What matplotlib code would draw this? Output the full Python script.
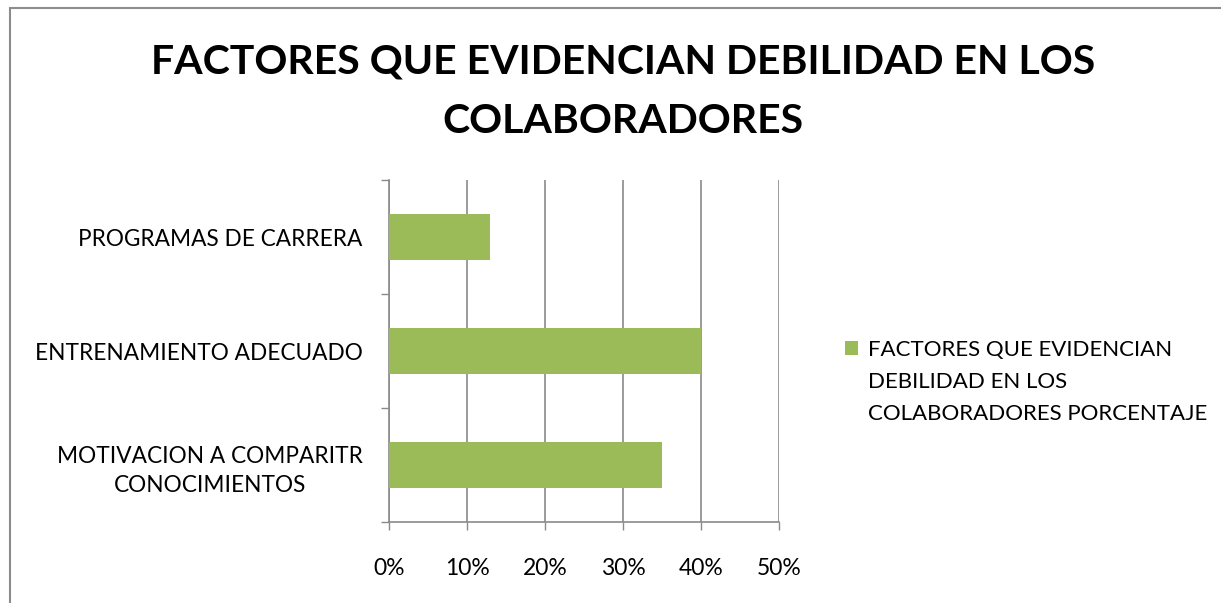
import matplotlib
matplotlib.use("Agg")
import matplotlib.pyplot as plt
from matplotlib.patches import Rectangle

categories = ["PROGRAMAS DE CARRERA", "ENTRENAMIENTO ADECUADO", "MOTIVACION A COMPARITR\nCONOCIMIENTOS"]
values = [0.13, 0.40, 0.35]
xticks = [0.0, 0.1, 0.2, 0.3, 0.4, 0.5]
xtick_labels = ["0%", "10%", "20%", "30%", "40%", "50%"]
title = "FACTORES QUE EVIDENCIAN DEBILIDAD EN LOS\nCOLABORADORES"
legend_lines = ["FACTORES QUE EVIDENCIAN", "DEBILIDAD EN LOS", "COLABORADORES PORCENTAJE"]

plt.rcParams['font.family'] = ['Lato', 'DejaVu Sans']
W, H = 1221, 603
fig = plt.figure(figsize=(W / 100, H / 100), dpi=100)
fig.patch.set_facecolor('white')

# outer border
fig.patches.append(Rectangle((10 / W, -0.1), 1.2, 1 - 8 / H + 0.1, transform=fig.transFigure,
                             fill=False, edgecolor='#8c8c8c', linewidth=1.5))

ax = fig.add_axes([389 / W, 1 - 522 / H, (779 - 389) / W, (522 - 180) / H])
bar_color = '#9BBB59'
grid_color = '#8a8a8a'
ypos = [2, 1, 0]
bars = ax.barh(ypos, values, height=0.4, color=bar_color, zorder=3)
ax.set_xlim(0, 0.5)
ax.set_ylim(-0.5, 2.5)

ax.set_xticks(xticks)
ax.set_xticklabels(xtick_labels, fontsize=16.5)
ax.tick_params(axis='x', length=6, width=1, color=grid_color, pad=20, labelcolor='black')
ax.xaxis.grid(True, color=grid_color, linewidth=1.2, zorder=0)

ax.set_yticks([-0.5, 0.5, 1.5, 2.5])
ax.set_yticklabels([])
ax.tick_params(axis='y', which='major', length=6, width=1, color=grid_color)
ax.set_yticks(ypos, minor=True)
ax.set_yticklabels(categories, minor=True, fontsize=16.3)
ax.tick_params(axis='y', which='minor', length=0, pad=19)
for lab in ax.get_yticklabels(minor=True):
    lab.set_multialignment('center')
    lab.set_linespacing(1.5)

for s in ['top', 'right']:
    ax.spines[s].set_visible(False)
for s in ['left', 'bottom']:
    ax.spines[s].set_color(grid_color)
    ax.spines[s].set_linewidth(1.2)

fig.text(623 / W, 1 - 92 / H, title, ha='center', va='center', fontsize=29.5,
         fontweight='bold', linespacing=1.75)

leg = fig.legend([bars], [legend_lines[0]], loc='center left',
                 bbox_to_anchor=(845 / W, 1 - 350 / H), frameon=False, fontsize=16,
                 handlelength=0.6, handleheight=0.6, handletextpad=0.45, borderpad=0, borderaxespad=0)
for i, line in enumerate(legend_lines[1:], start=1):
    fig.text(868 / W, 1 - (350 + 32 * i) / H, line, ha='left', va='center', fontsize=16)

fig.savefig('out.png', dpi=100)
